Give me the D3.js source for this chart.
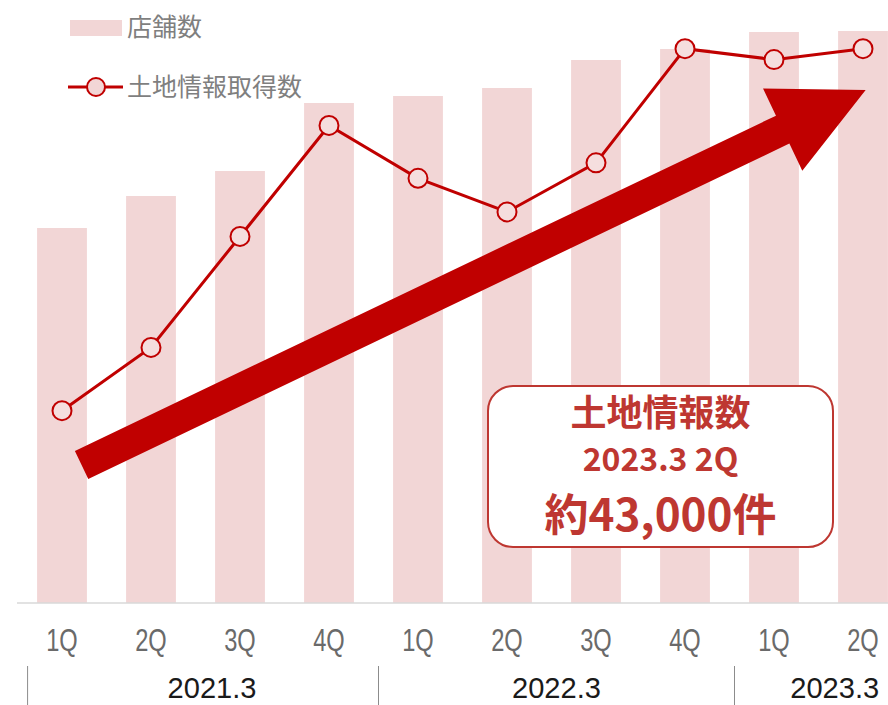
<!DOCTYPE html>
<html><head><meta charset="utf-8">
<script src="https://cdn.jsdelivr.net/npm/d3@7"></script>
<style>
html,body{margin:0;padding:0;background:#fff;}
svg{display:block;}
</style></head>
<body>
<svg id="chart" width="888" height="705"></svg>
<script>
// ---- data ----
const quarters = ["1Q","2Q","3Q","4Q","1Q","2Q","3Q","4Q","1Q","2Q"];
const years = ["2021.3","2021.3","2021.3","2021.3","2022.3","2022.3","2022.3","2022.3","2023.3","2023.3"];
const yearLabels = ["2021.3","2022.3","2023.3"];
const storeCounts = [375, 407, 432, 500, 507, 515, 543, 554, 571, 572];
const landInfo = [14900, 19800, 28400, 37000, 32900, 30300, 34100, 42950, 42100, 42950];
const legendLabels = ["店舗数", "土地情報取得数"];
const calloutLines = ["土地情報数", "2023.3 2Q", "約43,000件"];
// arrow: start / end in (category index, land-info value) space
const arrowFrom = [0.22, 10700];
const arrowTo = [9.03, 39750];

// ---- layout ----
const W = 888, H = 705;
const baseY = 603;
const barColor = "#f2d6d6";
const red = "#c00000";
const calloutRed = "#be3731";
const cjk = "'Noto Sans CJK JP', 'Noto Sans', sans-serif";
const latin = "'Liberation Sans', Arial, sans-serif";

const svg = d3.select("#chart");
const keys = quarters.map((q, i) => i);

const x = d3.scaleBand().domain(keys).range([17.5, 907.5]).paddingInner(0.44).paddingOuter(0.22);
const step = x.step();
const xc = i => x(i) + x.bandwidth() / 2;
const xi = d3.scaleLinear().domain([0, 1]).range([xc(0), xc(1)]); // continuous index
const yBar = d3.scaleLinear().domain([0, 572]).range([baseY, 31]);
const yLine = d3.scaleLinear().domain([0, 43000]).range([baseY, 48]);

// bars
svg.append("g").selectAll("rect").data(storeCounts).join("rect")
  .attr("x", (d, i) => x(i)).attr("width", x.bandwidth())
  .attr("y", d => yBar(d)).attr("height", d => baseY - yBar(d))
  .attr("fill", barColor);

// axis line
svg.append("line").attr("x1", 17).attr("x2", W).attr("y1", baseY).attr("y2", baseY)
  .attr("stroke", "#d9d9d9").attr("stroke-width", 1.5);

// arrow
(function(){
  const x0 = xi(arrowFrom[0]), y0 = yLine(arrowFrom[1]);
  const x1 = xi(arrowTo[0]), y1 = yLine(arrowTo[1]);
  const len = Math.hypot(x1 - x0, y1 - y0);
  const ux = (x1 - x0) / len, uy = (y1 - y0) / len;
  const nx = -uy, ny = ux;
  const hw = 15.5, headW = 45.5, headL = 92;
  const bx = x1 - ux * headL, by = y1 - uy * headL;
  const pts = [
    [x0 + nx * hw, y0 + ny * hw],
    [bx + nx * hw, by + ny * hw],
    [bx + nx * headW, by + ny * headW],
    [x1, y1],
    [bx - nx * headW, by - ny * headW],
    [bx - nx * hw, by - ny * hw],
    [x0 - nx * hw, y0 - ny * hw]
  ];
  svg.append("path").attr("d", d3.line()(pts) + "Z").attr("fill", red);
})();

// line
svg.append("path").datum(landInfo)
  .attr("d", d3.line().x((d, i) => xc(i)).y(d => yLine(d)))
  .attr("fill", "none").attr("stroke", red).attr("stroke-width", 3);
svg.append("g").selectAll("circle").data(landInfo).join("circle")
  .attr("cx", (d, i) => xc(i)).attr("cy", d => yLine(d)).attr("r", 9.5)
  .attr("fill", "#f5dede").attr("stroke", red).attr("stroke-width", 2);

// quarter labels (condensed)
svg.append("g").selectAll("text").data(quarters).join("text")
  .attr("transform", (d, i) => `translate(${xc(i)},651) scale(0.74,1)`)
  .attr("text-anchor", "middle").attr("font-family", latin).attr("font-size", 32)
  .attr("fill", "#6a6a6a").text(d => d);

// year groups
const groups = yearLabels.map(y => {
  const idx = keys.filter(i => years[i] === y);
  return { label: y, first: idx[0], last: idx[idx.length - 1] };
});
const sepX = g => x(g.first) - step * (x.paddingInner()) / 2 + 5;
const firstSep = g => x(g.first) - 9.5;
groups.forEach((g, k) => {
  const sx = k === 0 ? firstSep(g) : sepX(g);
  svg.append("line").attr("x1", sx).attr("x2", sx).attr("y1", 666).attr("y2", H)
    .attr("stroke", "#8c8c8c").attr("stroke-width", 1);
});
const yearCenters = groups.map((g, k) => {
  const left = k === 0 ? firstSep(g) : sepX(g);
  const right = k < groups.length - 1 ? sepX(groups[k + 1]) : W + 47;
  return (left + right) / 2 + (k === 0 ? 9 : 0);
});
svg.append("g").selectAll("text").data(groups).join("text")
  .attr("transform", (d, k) => `translate(${yearCenters[k]},698) scale(0.97,1)`)
  .attr("text-anchor", "middle").attr("font-family", latin).attr("font-size", 30)
  .attr("fill", "#1a1a1a").text(d => d.label);

// legend
const lg = svg.append("g");
lg.append("rect").attr("x", 70).attr("y", 20).attr("width", 52).attr("height", 16).attr("fill", barColor);
lg.append("text").attr("x", 127).attr("y", 36).attr("font-family", cjk).attr("font-size", 25)
  .attr("fill", "#7f7f7f").text(legendLabels[0]);
lg.append("line").attr("x1", 68).attr("x2", 123).attr("y1", 87).attr("y2", 87)
  .attr("stroke", red).attr("stroke-width", 3);
lg.append("circle").attr("cx", 96).attr("cy", 87).attr("r", 9)
  .attr("fill", barColor).attr("stroke", red).attr("stroke-width", 2);
lg.append("text").attr("x", 127).attr("y", 96).attr("font-family", cjk).attr("font-size", 25)
  .attr("fill", "#7f7f7f").text(legendLabels[1]);

// callout
const cb = { x: 488, y: 386, w: 345, h: 161 };
const cx = cb.x + cb.w / 2;
svg.append("rect").attr("x", cb.x).attr("y", cb.y).attr("width", cb.w).attr("height", cb.h)
  .attr("rx", 25).attr("ry", 25).attr("fill", "#fff").attr("stroke", calloutRed).attr("stroke-width", 2);
const cFonts = [36, 32, 44];
const cY = [426, 471, 531];
calloutLines.forEach((t, k) => {
  svg.append("text").attr("x", cx).attr("y", cY[k]).attr("text-anchor", "middle")
    .attr("font-family", cjk).attr("font-weight", "bold").attr("font-size", cFonts[k])
    .attr("fill", calloutRed).text(t);
});
</script>
</body></html>
